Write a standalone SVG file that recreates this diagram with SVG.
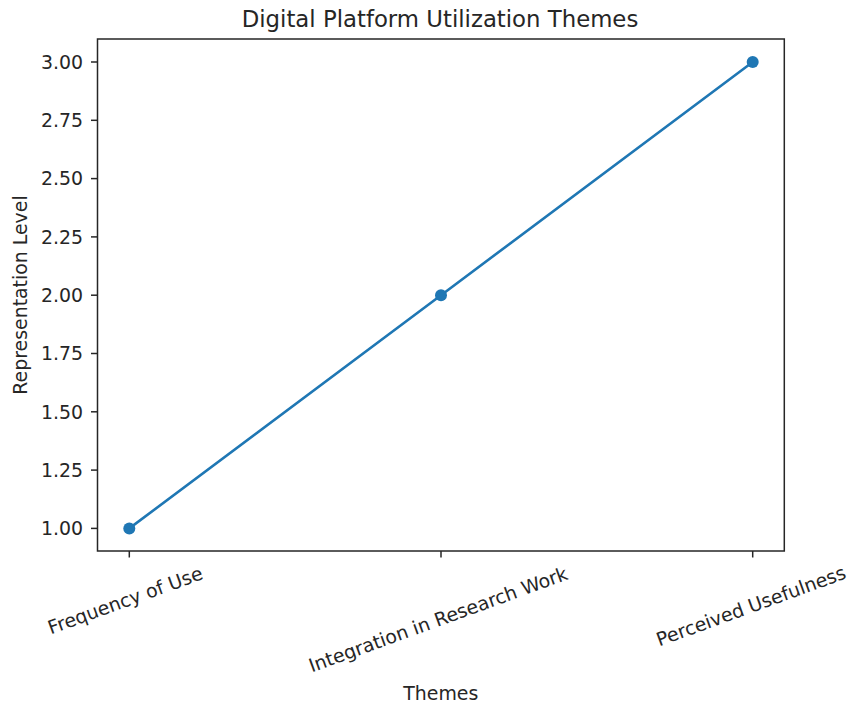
<svg xmlns="http://www.w3.org/2000/svg" width="852" height="705" viewBox="0 0 852 705">
<style>
text{font-family:"DejaVu Sans","Liberation Sans",sans-serif;fill:#262626}
.tick{font-size:18.9px}
.ytl{text-anchor:end}
.xtl{text-anchor:middle}
.tk{stroke:#262626;stroke-width:1.5}
.spine{fill:none;stroke:#262626;stroke-width:1.5}
</style>
<rect width="852" height="705" fill="#ffffff"/>
<g id="title"><text x="440" y="26.5" font-size="22.8" text-anchor="middle">Digital Platform Utilization Themes</text></g>
<g id="axes">
<rect class="spine" x="97.5" y="39" width="686.8" height="512"/>
<g id="yticks">
<line class="tk" x1="91" y1="62" x2="97.5" y2="62"/>
<line class="tk" x1="91" y1="120.3" x2="97.5" y2="120.3"/>
<line class="tk" x1="91" y1="178.6" x2="97.5" y2="178.6"/>
<line class="tk" x1="91" y1="236.9" x2="97.5" y2="236.9"/>
<line class="tk" x1="91" y1="295.2" x2="97.5" y2="295.2"/>
<line class="tk" x1="91" y1="353.5" x2="97.5" y2="353.5"/>
<line class="tk" x1="91" y1="411.8" x2="97.5" y2="411.8"/>
<line class="tk" x1="91" y1="470.1" x2="97.5" y2="470.1"/>
<line class="tk" x1="91" y1="528.4" x2="97.5" y2="528.4"/>
<text class="tick ytl" x="83" y="68.8">3.00</text>
<text class="tick ytl" x="83" y="127.1">2.75</text>
<text class="tick ytl" x="83" y="185.4">2.50</text>
<text class="tick ytl" x="83" y="243.7">2.25</text>
<text class="tick ytl" x="83" y="302">2.00</text>
<text class="tick ytl" x="83" y="360.3">1.75</text>
<text class="tick ytl" x="83" y="418.6">1.50</text>
<text class="tick ytl" x="83" y="476.9">1.25</text>
<text class="tick ytl" x="83" y="535.2">1.00</text>
</g>
<g id="xticks">
<line class="tk" x1="129.3" y1="551" x2="129.3" y2="557.5"/>
<line class="tk" x1="441" y1="551" x2="441" y2="557.5"/>
<line class="tk" x1="752.7" y1="551" x2="752.7" y2="557.5"/>
<text class="tick xtl" x="127.5" y="606.5" transform="rotate(-20 127.5 606.5)">Frequency of Use</text>
<text class="tick xtl" x="440.5" y="625.8" transform="rotate(-20 440.5 625.8)">Integration in Research Work</text>
<text class="tick xtl" x="753.3" y="612.2" transform="rotate(-20 753.3 612.2)">Perceived Usefulness</text>
</g>
<text class="tick" x="440.8" y="700" text-anchor="middle">Themes</text>
<text class="tick" x="27" y="295" text-anchor="middle" transform="rotate(-90 27 295)">Representation Level</text>
</g>
<g id="connectors">
<polyline points="129.3,528.4 441,295.2 752.7,62" fill="none" stroke="#1f77b4" stroke-width="2.6" stroke-linecap="square"/>
</g>
<g id="points" fill="#1f77b4">
<circle id="p1" cx="129.3" cy="528.4" r="6"/>
<circle id="p2" cx="441" cy="295.2" r="6"/>
<circle id="p3" cx="752.7" cy="62" r="6"/>
</g>
</svg>
